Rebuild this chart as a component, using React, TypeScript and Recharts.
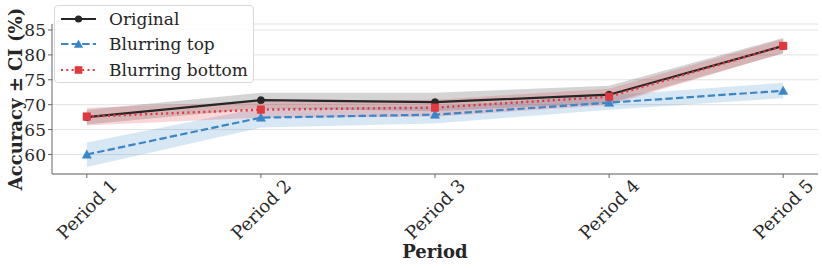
import React from 'react';
import { ComposedChart, Line, Area, XAxis, YAxis, CartesianGrid, Legend } from 'recharts';

const periods = ['Period 1', 'Period 2', 'Period 3', 'Period 4', 'Period 5'];
const originalMean = [67.5, 70.9, 70.5, 72.0, 81.8];
const originalLow = [66.0, 69.3, 68.7, 70.3, 80.3];
const originalHigh = [69.0, 72.4, 72.4, 73.8, 83.4];
const topMean = [60.0, 67.4, 68.0, 70.4, 72.8];
const topLow = [57.5, 65.4, 66.2, 69.0, 71.3];
const topHigh = [62.4, 69.4, 69.7, 71.9, 74.4];
const bottomMean = [67.6, 69.0, 69.4, 71.6, 81.8];
const bottomLow = [65.8, 67.4, 67.6, 69.9, 80.4];
const bottomHigh = [69.4, 70.6, 71.0, 73.2, 83.2];
const yTicks = [60, 65, 70, 75, 80, 85];

const seriesNames = ['Original', 'Blurring top', 'Blurring bottom'];
const BLACK = '#262626';
const BLUE = '#3a86c6';
const RED = '#e0383e';
const FONT = '"DejaVu Serif", serif';

const data = periods.map((p, i) => ({
  x: i,
  name: p,
  orig: originalMean[i],
  origBand: [originalLow[i], originalHigh[i]],
  top: topMean[i],
  topBand: [topLow[i], topHigh[i]],
  bottom: bottomMean[i],
  bottomBand: [bottomLow[i], bottomHigh[i]],
}));

const circleDot = (props: any) => {
  const { cx, cy, index } = props;
  if (cx == null || cy == null) return <g key={`c${index}`} />;
  return <circle key={`c${index}`} cx={cx} cy={cy} r={3.6} fill={BLACK} stroke={BLACK} strokeWidth={0.5} />;
};
const triDot = (props: any) => {
  const { cx, cy, index } = props;
  if (cx == null || cy == null) return <g key={`t${index}`} />;
  const s = 4.6;
  return (
    <path key={`t${index}`} d={`M${cx},${cy - s} L${cx + s},${cy + s * 0.8} L${cx - s},${cy + s * 0.8} Z`} fill={BLUE} stroke={BLUE} strokeWidth={0.5} />
  );
};
const sqDot = (props: any) => {
  const { cx, cy, index } = props;
  if (cx == null || cy == null) return <g key={`s${index}`} />;
  const s = 3.8;
  return <rect key={`s${index}`} x={cx - s} y={cy - s} width={2 * s} height={2 * s} fill={RED} stroke={RED} strokeWidth={0.5} />;
};

const XTick = (props: any) => {
  const { x, y, payload } = props;
  return (
    <text
      x={0}
      y={0}
      textAnchor="middle"
      dominantBaseline="central"
      transform={`translate(${x}, ${y + 29}) rotate(-45)`}
      fontFamily={FONT}
      fontSize={18}
      fill={BLACK}
    >
      {periods[payload.value]}
    </text>
  );
};

const LegendBox = () => {
  const rows = [
    { name: seriesNames[0], color: BLACK, dash: undefined, marker: 'c' },
    { name: seriesNames[1], color: BLUE, dash: '7.4 3.2', marker: 't' },
    { name: seriesNames[2], color: RED, dash: '2 3.3', marker: 's' },
  ];
  return (
    <div
      style={{
        border: '1px solid #d9d9d9',
        borderRadius: 4,
        background: 'rgba(255,255,255,0.85)',
        width: 200,
        height: 78,
        boxSizing: 'border-box',
        paddingTop: 0,
        fontFamily: FONT,
      }}
    >
      {rows.map((r) => (
        <div key={r.name} style={{ display: 'flex', alignItems: 'center', height: 25.5 }}>
          <svg width={54} height={20} style={{ flex: 'none' }}>
            <line x1={6} x2={41} y1={10} y2={10} stroke={r.color} strokeWidth={2} strokeDasharray={r.dash} />
            {r.marker === 'c' && <circle cx={23.5} cy={10} r={3.6} fill={r.color} />}
            {r.marker === 't' && <path d={`M23.5,5.4 L28.1,13.7 L18.9,13.7 Z`} fill={r.color} />}
            {r.marker === 's' && <rect x={19.7} y={6.2} width={7.6} height={7.6} fill={r.color} />}
          </svg>
          <span style={{ fontSize: 17, color: BLACK, whiteSpace: 'nowrap' }}>{r.name}</span>
        </div>
      ))}
    </div>
  );
};

export default function App() {
  return (
    <div style={{ position: 'absolute', left: 0, top: 0, width: 822, height: 268, background: '#fff' }}>
      <ComposedChart width={822} height={268} data={data} margin={{ top: 24, right: 4, left: 0, bottom: 0 }}>
        <CartesianGrid vertical={false} stroke="#e2e2e2" strokeWidth={1} />
        <XAxis
          type="number"
          dataKey="x"
          domain={[-0.2, 4.2]}
          ticks={[0, 1, 2, 3, 4]}
          interval={0}
          allowDataOverflow
          height={94}
          tickSize={4}
          tickMargin={2}
          stroke="#666"
          tick={<XTick />}
          label={{
            content: (p: any) => {
              const vb = p.viewBox || { x: 52, width: 766 };
              return (
                <text x={vb.x + vb.width / 2} y={258} textAnchor="middle" fontFamily={FONT} fontWeight="bold" fontSize={18} fill={BLACK}>
                  Period
                </text>
              );
            },
          }}
        />
        <YAxis
          type="number"
          domain={[56.08, 86.2]}
          ticks={yTicks}
          interval={0}
          allowDataOverflow
          width={52}
          tickSize={4}
          tickMargin={2}
          stroke="#666"
          tick={{ fontFamily: FONT, fontSize: 17, fill: BLACK }}
          label={{
            content: (p: any) => {
              const vb = p.viewBox || { y: 24, height: 150 };
              const cy = vb.y + vb.height / 2;
              return (
                <text
                  x={15}
                  y={cy}
                  transform={`rotate(-90 15 ${cy})`}
                  textAnchor="middle"
                  dominantBaseline="central"
                  fontFamily={FONT}
                  fontWeight="bold"
                  fontSize={18}
                  fill={BLACK}
                >
                  Accuracy ± CI (%)
                </text>
              );
            },
          }}
        />
        <Area type="linear" dataKey="origBand" stroke="none" fill={BLACK} fillOpacity={0.2} isAnimationActive={false} activeDot={false} />
        <Line type="linear" dataKey="orig" stroke={BLACK} strokeWidth={2.2} dot={circleDot} activeDot={false} isAnimationActive={false} />
        <Area type="linear" dataKey="topBand" stroke="none" fill={BLUE} fillOpacity={0.2} isAnimationActive={false} activeDot={false} />
        <Line type="linear" dataKey="top" stroke={BLUE} strokeWidth={2.2} strokeDasharray="7.4 3.2" dot={triDot} activeDot={false} isAnimationActive={false} />
        <Area type="linear" dataKey="bottomBand" stroke="none" fill={RED} fillOpacity={0.2} isAnimationActive={false} activeDot={false} />
        <Line type="linear" dataKey="bottom" stroke={RED} strokeWidth={2.4} strokeDasharray="2 3.3" dot={sqDot} activeDot={false} isAnimationActive={false} />
        <Legend
          layout="vertical"
          align="center"
          verticalAlign="middle"
          content={<LegendBox />}
          wrapperStyle={{ left: 54, top: 5, width: 'auto', height: 'auto' }}
        />
      </ComposedChart>
    </div>
  );
}
